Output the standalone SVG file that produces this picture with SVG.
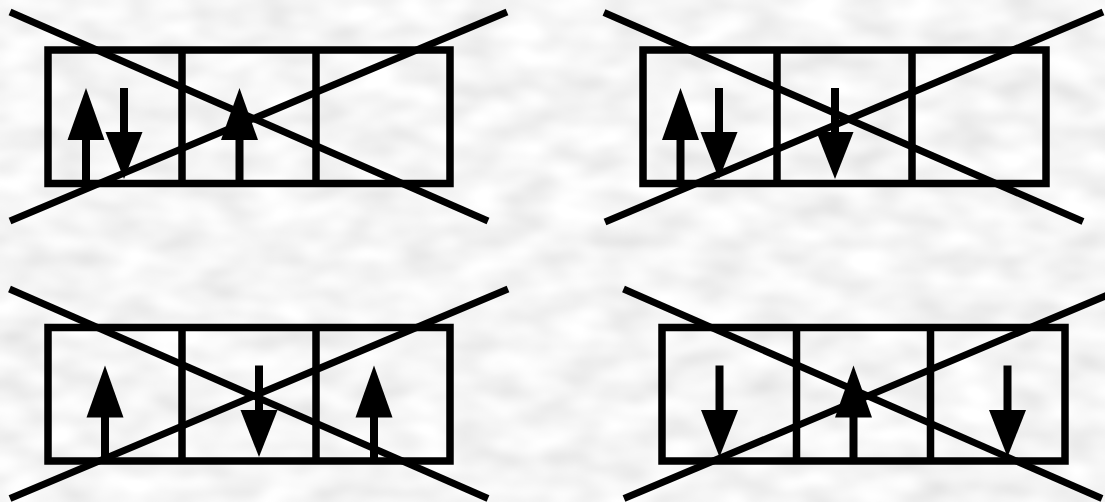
<svg xmlns="http://www.w3.org/2000/svg" xmlns:xlink="http://www.w3.org/1999/xlink" width="1105" height="502" viewBox="0 0 1105 502">
  <defs>
    <filter id="marble" x="0" y="0" width="1105" height="502" filterUnits="userSpaceOnUse">
      <feTurbulence type="fractalNoise" baseFrequency="0.02 0.04" numOctaves="2" seed="7" result="n"/>
      <feGaussianBlur in="n" stdDeviation="2" result="b"/>
      <feColorMatrix in="b" type="matrix" values="0.35 0 0 0 0.74  0.35 0 0 0 0.74  0.35 0 0 0 0.74  0 0 0 0 1"/>
    </filter>
    <polygon id="headUp" points="0,0 18.5,52 -18.5,52"/>
    <polygon id="headDown" points="-18.5,0 18.5,0 0,47"/>
    <style>
      .box{fill:none;stroke:#000;stroke-width:7.5}
      .div{stroke:#000;stroke-width:7.5}
      .x{stroke:#000;stroke-width:7;stroke-linecap:butt}
      .shaft{stroke:#000;stroke-width:8}
      .head{fill:#000}
    </style>
  </defs>
  <rect width="1105" height="502" fill="#e8e8e8" filter="url(#marble)"/>

  <g id="valve1">
    <rect class="box" x="48" y="50" width="402" height="133.5"/>
    <line class="div" x1="182" y1="50" x2="182" y2="183.5"/>
    <line class="div" x1="316" y1="50" x2="316" y2="183.5"/>
    <line class="shaft" x1="86" y1="135" x2="86" y2="183.5"/>
    <use class="head" href="#headUp" x="86" y="88"/>
    <line class="shaft" x1="124" y1="88" x2="124" y2="135"/>
    <use class="head" href="#headDown" x="124" y="132"/>
    <line class="shaft" x1="239.5" y1="135" x2="239.5" y2="183.5"/>
    <use class="head" href="#headUp" x="239.5" y="88"/>
    <line class="x" x1="10" y1="12" x2="488" y2="221"/>
    <line class="x" x1="10" y1="221" x2="507" y2="12"/>
  </g>

  <g id="valve2">
    <rect class="box" x="643" y="50" width="403" height="133.5"/>
    <line class="div" x1="777" y1="50" x2="777" y2="183.5"/>
    <line class="div" x1="912" y1="50" x2="912" y2="183.5"/>
    <line class="shaft" x1="680.5" y1="135" x2="680.5" y2="183.5"/>
    <use class="head" href="#headUp" x="680.5" y="88"/>
    <line class="shaft" x1="719" y1="88" x2="719" y2="135"/>
    <use class="head" href="#headDown" x="719" y="132"/>
    <line class="shaft" x1="835" y1="88" x2="835" y2="135"/>
    <use class="head" href="#headDown" x="835" y="132"/>
    <line class="x" x1="604" y1="12.5" x2="1083" y2="221.5"/>
    <line class="x" x1="605" y1="222" x2="1103" y2="12"/>
  </g>

  <g id="valve3">
    <rect class="box" x="48" y="327.5" width="402" height="133.5"/>
    <line class="div" x1="182" y1="327.5" x2="182" y2="461"/>
    <line class="div" x1="316" y1="327.5" x2="316" y2="461"/>
    <line class="shaft" x1="105" y1="412" x2="105" y2="461"/>
    <use class="head" href="#headUp" x="105" y="365.5"/>
    <line class="shaft" x1="259" y1="365.5" x2="259" y2="413"/>
    <use class="head" href="#headDown" x="259" y="410"/>
    <line class="shaft" x1="374" y1="412" x2="374" y2="461"/>
    <use class="head" href="#headUp" x="374" y="365.5"/>
    <line class="x" x1="9.5" y1="289" x2="488" y2="498.5"/>
    <line class="x" x1="10" y1="498.5" x2="508" y2="289"/>
  </g>

  <g id="valve4">
    <rect class="box" x="662" y="327.5" width="403" height="133.5"/>
    <line class="div" x1="796.5" y1="327.5" x2="796.5" y2="461"/>
    <line class="div" x1="930.5" y1="327.5" x2="930.5" y2="461"/>
    <line class="shaft" x1="719.5" y1="365.5" x2="719.5" y2="413"/>
    <use class="head" href="#headDown" x="719.5" y="410"/>
    <line class="shaft" x1="853.5" y1="412" x2="853.5" y2="461"/>
    <use class="head" href="#headUp" x="853.5" y="365.5"/>
    <line class="shaft" x1="1007.5" y1="365.5" x2="1007.5" y2="413"/>
    <use class="head" href="#headDown" x="1007.5" y="410"/>
    <line class="x" x1="623.5" y1="289" x2="1102" y2="498.5"/>
    <line class="x" x1="624" y1="498.5" x2="1122" y2="289"/>
  </g>
</svg>
